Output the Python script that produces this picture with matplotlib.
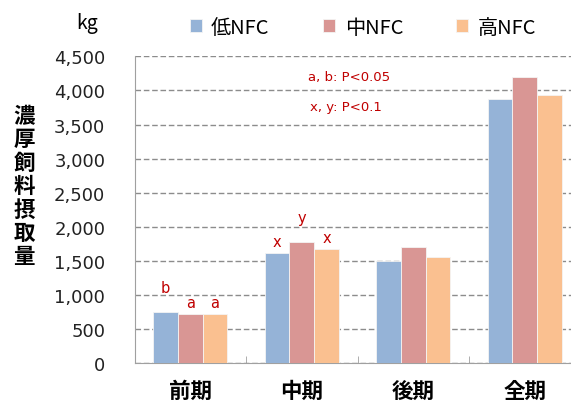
import numpy as np
import matplotlib.pyplot as plt

plt.rcParams['font.family'] = ['Noto Sans CJK JP', 'DejaVu Sans']

periods = ['前期', '中期', '後期', '全期']
groups = ['低NFC', '中NFC', '高NFC']
low_nfc = [745, 1620, 1498, 3870]
mid_nfc = [716, 1777, 1699, 4200]
high_nfc = [716, 1678, 1552, 3940]
colors = ['#95b3d7', '#d99694', '#fac090']

# significance letters: (period index, group index, letter)
marks = [(0, 0, 'b'), (0, 1, 'a'), (0, 2, 'a'),
         (1, 0, 'x'), (1, 1, 'y'), (1, 2, 'x')]

W, H = 571, 406
fig = plt.figure(figsize=(W / 100, H / 100), dpi=100)
ax = fig.add_axes([134.5 / W, 42 / H, 446 / W, 306.6 / H])

x = np.arange(len(periods))
w = 0.222
series = [low_nfc, mid_nfc, high_nfc]
for i, vals in enumerate(series):
    ax.bar(x + (i - 1) * w, vals, w, color=colors[i], edgecolor='#f4f4f4',
           linewidth=0.6, label=groups[i], zorder=3)

ax.set_xlim(-0.5, 3.5)
ax.set_ylim(0, 4500)
ax.set_yticks(np.arange(0, 4501, 500))
ax.set_yticklabels([f'{v:,}' for v in range(0, 4501, 500)], fontsize=13,
                   family='DejaVu Sans', color='#222222')
ax.yaxis.grid(True, linestyle=(0, (4, 2)), color='#8c8c8c', linewidth=1, zorder=0)
ax.tick_params(axis='y', length=0, pad=21)

ax.set_xticks(x)
ax.set_xticklabels(periods, fontsize=15.5, fontweight='bold')
ax.set_xticks(np.arange(0.5, 3.5, 1), minor=True)
ax.tick_params(axis='x', which='major', length=0, pad=12)
ax.tick_params(axis='x', which='minor', direction='in', length=5, color='#a0a0a0')

for s in ['top', 'right']:
    ax.spines[s].set_visible(False)
for s in ['left', 'bottom']:
    ax.spines[s].set_color('#a0a0a0')

# letters above the bars
for p, g, t in marks:
    v = series[g][p]
    lift = 20 if t in ('b', 'y') else 7
    ax.annotate(t, (x[p] + (g - 1) * w, v), xytext=(0, lift),
                textcoords='offset pixels', ha='center', va='baseline',
                color='#c00000', fontsize=10.5, family='DejaVu Sans')

fig.text(349 / W, 1 - 77 / H, 'a, b: P<0.05', color='#c00000', fontsize=9.5,
         ha='center', va='center', family='DejaVu Sans')
fig.text(346 / W, 1 - 107 / H, 'x, y: P<0.1', color='#c00000', fontsize=9.5,
         ha='center', va='center', family='DejaVu Sans')

fig.text(87 / W, 1 - 29 / H, 'kg', fontsize=14, ha='center', va='baseline')

# vertical axis title, one character per row
ylabel = '濃厚飼料摂取量'
for i, ch in enumerate(ylabel):
    fig.text(24 / W, 1 - (116.7 + i * 23.3) / H, ch, fontsize=15.5,
             fontweight='bold', ha='center', va='center')

fig.legend(loc='center', bbox_to_anchor=(363 / W, 1 - 28.4 / H), ncol=3,
           frameon=False, fontsize=14.5, handlelength=0.6, handleheight=0.6,
           handletextpad=0.47, columnspacing=2.65, borderpad=0, borderaxespad=0)

fig.savefig('out.png', dpi=100)
